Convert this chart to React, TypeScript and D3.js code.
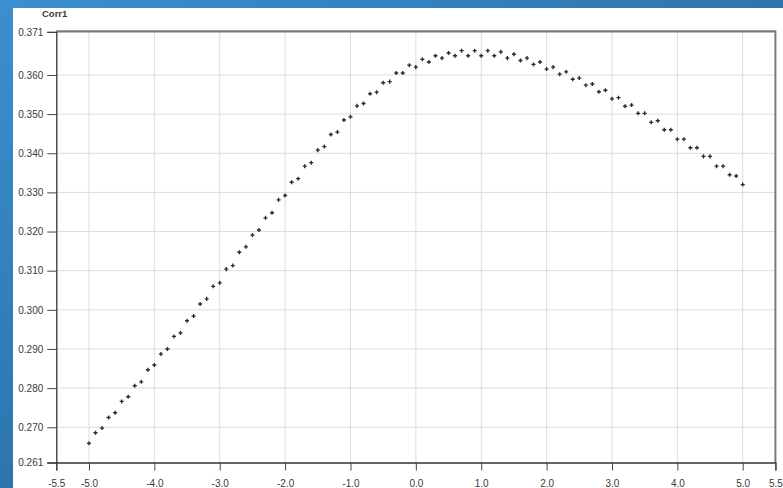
import React, { useEffect, useRef } from 'react';
import * as d3 from 'd3';

// x positions -5.0 .. 5.0 step 0.1
const xs: number[] = [
  -5.0, -4.9, -4.8, -4.7, -4.6, -4.5, -4.4, -4.3, -4.2, -4.1,
  -4.0, -3.9, -3.8, -3.7, -3.6, -3.5, -3.4, -3.3, -3.2, -3.1,
  -3.0, -2.9, -2.8, -2.7, -2.6, -2.5, -2.4, -2.3, -2.2, -2.1,
  -2.0, -1.9, -1.8, -1.7, -1.6, -1.5, -1.4, -1.3, -1.2, -1.1,
  -1.0, -0.9, -0.8, -0.7, -0.6, -0.5, -0.4, -0.3, -0.2, -0.1,
  0.0, 0.1, 0.2, 0.3, 0.4, 0.5, 0.6, 0.7, 0.8, 0.9,
  1.0, 1.1, 1.2, 1.3, 1.4, 1.5, 1.6, 1.7, 1.8, 1.9,
  2.0, 2.1, 2.2, 2.3, 2.4, 2.5, 2.6, 2.7, 2.8, 2.9,
  3.0, 3.1, 3.2, 3.3, 3.4, 3.5, 3.6, 3.7, 3.8, 3.9,
  4.0, 4.1, 4.2, 4.3, 4.4, 4.5, 4.6, 4.7, 4.8, 4.9,
  5.0,
];

const corr1: number[] = [
  0.2659, 0.2686, 0.2698, 0.2725, 0.2737, 0.2766, 0.2778, 0.2806, 0.2816, 0.2847,
  0.2859, 0.2887, 0.2900, 0.2932, 0.2941, 0.2972, 0.2984, 0.3015, 0.3028, 0.3060,
  0.3069, 0.3104, 0.3113, 0.3147, 0.3161, 0.3191, 0.3204, 0.3235, 0.3248, 0.3281,
  0.3292, 0.3326, 0.3335, 0.3367, 0.3376, 0.3408, 0.3417, 0.3448, 0.3454, 0.3485,
  0.3493, 0.3521, 0.3527, 0.3552, 0.3556, 0.3580, 0.3583, 0.3605, 0.3605, 0.3625,
  0.3620, 0.3640, 0.3633, 0.3649, 0.3643, 0.3656, 0.3649, 0.3662, 0.3649, 0.3662,
  0.3649, 0.3662, 0.3649, 0.3659, 0.3643, 0.3653, 0.3637, 0.3643, 0.3627, 0.3633,
  0.3615, 0.3620, 0.3602, 0.3608, 0.3589, 0.3592, 0.3574, 0.3577, 0.3557, 0.3561,
  0.3539, 0.3542, 0.3520, 0.3523, 0.3502, 0.3502, 0.3479, 0.3483, 0.3460, 0.3460,
  0.3436, 0.3436, 0.3414, 0.3414, 0.3392, 0.3392, 0.3367, 0.3367, 0.3345, 0.3342,
  0.3320,
];

const xTicks = [-5.5, -5.0, -4.0, -3.0, -2.0, -1.0, 0.0, 1.0, 2.0, 3.0, 4.0, 5.0, 5.5];
const xGrid = [-5, -4, -3, -2, -1, 0, 1, 2, 3, 4, 5];
const yTicks = [0.261, 0.27, 0.28, 0.29, 0.3, 0.31, 0.32, 0.33, 0.34, 0.35, 0.36, 0.371];
const yGrid = [0.27, 0.28, 0.29, 0.3, 0.31, 0.32, 0.33, 0.34, 0.35, 0.36];

const FONT = 'Liberation Sans, Arial, sans-serif';

const App: React.FC = () => {
  const svgRef = useRef<SVGSVGElement>(null);

  useEffect(() => {
    if (!svgRef.current) return;
    const svg = d3.select(svgRef.current);
    svg.selectAll('*').remove();

    const width = 783;
    const height = 488;

    // background
    const defs = svg.append('defs');
    const grad = defs.append('linearGradient')
      .attr('id', 'bg').attr('x1', '0').attr('y1', '0').attr('x2', '1').attr('y2', '1');
    grad.append('stop').attr('offset', '0%').attr('stop-color', '#3b8fd0');
    grad.append('stop').attr('offset', '60%').attr('stop-color', '#2a70a8');
    grad.append('stop').attr('offset', '100%').attr('stop-color', '#1d5a88');
    svg.append('rect').attr('width', width).attr('height', height).attr('fill', 'url(#bg)');
    svg.append('rect').attr('x', 13).attr('y', 8)
      .attr('width', width - 13).attr('height', height - 8).attr('fill', '#fff');

    const x = d3.scaleLinear().domain([-5.5, 5.5]).range([56.3, 775.4]);
    const y = d3.scaleLinear().domain([0.261, 0.371]).range([462.5, 31.9]);

    // Grid lines
    svg.append('g').selectAll('line').data(xGrid).enter().append('line')
      .attr('x1', d => x(d)).attr('x2', d => x(d))
      .attr('y1', y(0.371)).attr('y2', y(0.261))
      .attr('stroke', '#dcdcdc').attr('stroke-width', 1);
    svg.append('g').selectAll('line').data(yGrid).enter().append('line')
      .attr('x1', x(-5.5)).attr('x2', x(5.5))
      .attr('y1', d => y(d)).attr('y2', d => y(d))
      .attr('stroke', '#dcdcdc').attr('stroke-width', 1);

    // Frame (top + right)
    svg.append('line').attr('x1', x(-5.5)).attr('x2', x(5.5))
      .attr('y1', y(0.371) - 0.5).attr('y2', y(0.371) - 0.5)
      .attr('stroke', '#7a7a7a').attr('stroke-width', 2.2);
    svg.append('line').attr('x1', x(5.5)).attr('x2', x(5.5))
      .attr('y1', y(0.371) - 1.5).attr('y2', y(0.261))
      .attr('stroke', '#7a7a7a').attr('stroke-width', 2);

    // Axes (hyphen minus like the original)
    const fmtX = (d: d3.NumberValue) => d3.format('.1f')(d as number).replace('\u2212', '-');
    const xAxis = d3.axisBottom(x).tickValues(xTicks).tickSize(8).tickFormat(fmtX);
    const xMinor = d3.axisBottom(x).tickValues(d3.range(-54, 56, 2).map(v => v / 10)).tickSize(5).tickFormat(() => '');
    const yAxis = d3.axisLeft(y).tickValues(yTicks).tickSize(9).tickFormat(d => d3.format('.3f')(d as number));
    const yMinor = d3.axisLeft(y).tickValues(d3.range(262, 371, 2).map(v => v / 1000)).tickSize(6).tickFormat(() => '');

    const gx = svg.append('g').attr('transform', `translate(0,${y(0.261)})`);
    gx.call(xMinor);
    gx.call(xAxis);
    const gy = svg.append('g').attr('transform', `translate(${x(-5.5)},0)`);
    gy.call(yMinor);
    gy.call(yAxis);

    [gx, gy].forEach(g => {
      g.selectAll('.domain').attr('stroke', '#333').attr('stroke-width', 1.3);
      g.selectAll('.tick line').attr('stroke', '#444');
      g.selectAll('text').attr('fill', '#3a3a3a').attr('font-family', FONT).attr('font-size', 10);
    });
    gx.selectAll('text').attr('dy', '1.35em');
    gy.selectAll('text').attr('dx', '-0.1em');

    // Axis title
    svg.append('text').attr('x', 42).attr('y', 17)
      .attr('font-family', FONT).attr('font-size', 9.5)
      .attr('font-weight', 'bold').attr('fill', '#3a3a3a').text('Corr1');

    // Points
    const sym = d3.symbol().type(d3.symbolCross).size(9);
    svg.append('g').selectAll('path').data(xs).enter().append('path')
      .attr('transform', (d, i) => `translate(${x(d)},${y(corr1[i])})`)
      .attr('d', sym() as string)
      .attr('fill', '#2a2a2a');
  }, []);

  return (
    <svg ref={svgRef} width={783} height={488}
      style={{ position: 'absolute', left: 0, top: 0, display: 'block' }} />
  );
};

export default App;
